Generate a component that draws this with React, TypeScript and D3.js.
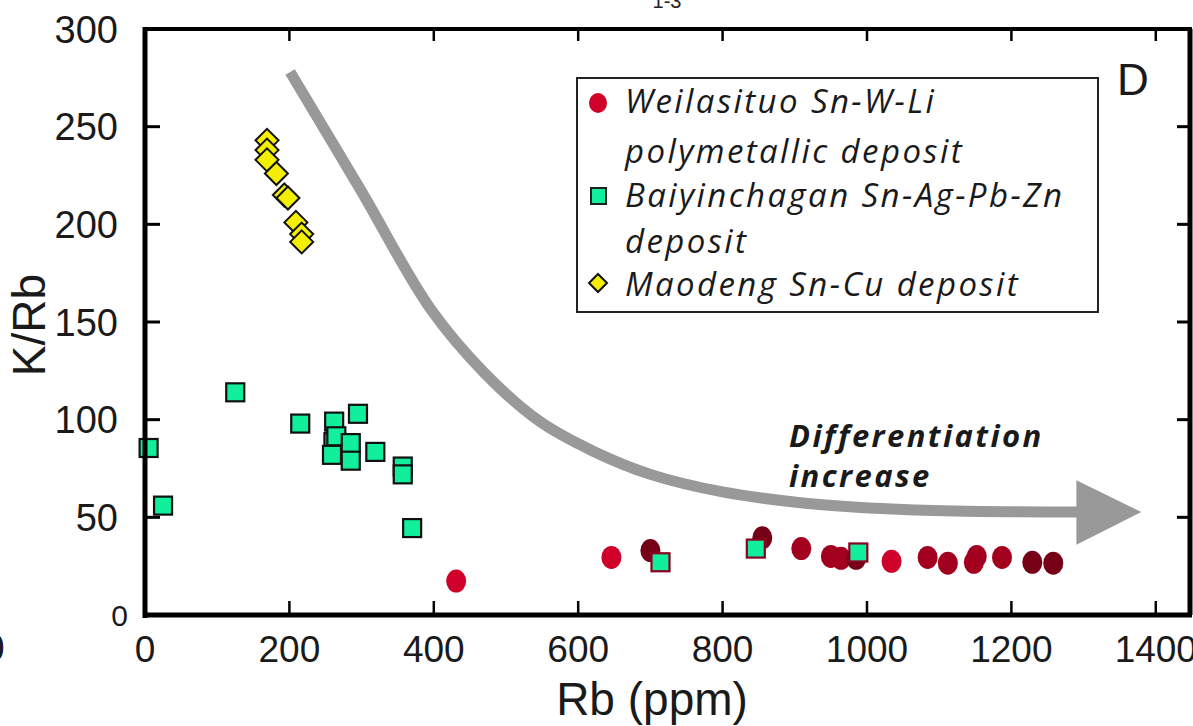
import React from 'react'
import * as d3 from 'd3'

// Weilasituo Sn-W-Li (red circles), split by the shade of red used in the figure
const weilasituoBrightRb = [431, 646, 1034]
const weilasituoBrightKRb = [17.4, 29.5, 27.5]
const weilasituoMidRb = [909, 950, 964, 1084, 1112, 1148, 1152, 1187]
const weilasituoMidKRb = [34, 30, 29, 29.5, 26.5, 27, 30, 29.5]
const weilasituoDarkRb = [700, 855, 985, 1229, 1258]
const weilasituoDarkKRb = [33, 39.5, 29, 27, 26.5]

// Baiyinchagan Sn-Ag-Pb-Zn (green squares)
const baiyinchaganRb = [5, 25, 125, 215, 262, 295, 261, 259, 265, 285, 285, 319, 357, 357, 370]
const baiyinchaganKRb = [85.5, 56, 114, 98, 99, 103, 88.5, 82, 91.5, 88, 79, 83.5, 76, 72, 44.5]
// the three squares that sit among the Weilasituo circles
const baiyinchaganHighRb = [714, 846, 988]
const baiyinchaganHighKRb = [27, 34, 32]

// Maodeng Sn-Cu (yellow diamonds)
const maodengRb = [169, 169, 169, 182, 193, 198, 209, 217, 217]
const maodengKRb = [243, 238, 233, 226, 215, 213.5, 201, 195, 191]

// trend arrow (data coords)
const trendRb = [201, 298, 395, 470, 547, 620, 700, 800, 908, 1020, 1120, 1295]
const trendKRb = [278, 218, 157, 124, 99, 84, 72, 63, 57.5, 54.5, 53.2, 52.7]

const xTicks = [0, 200, 400, 600, 800, 1000, 1200, 1400]
const yTicks = [0, 50, 100, 150, 200, 250, 300]

const legendItems = [
  { shape: 'circle', lines: ['Weilasituo Sn-W-Li', 'polymetallic deposit'] },
  { shape: 'square', lines: ['Baiyinchagan Sn-Ag-Pb-Zn', 'deposit'] },
  { shape: 'diamond', lines: ['Maodeng Sn-Cu deposit'] },
]

const W = 1193
const H = 726
const left = 145
const right = 1189
const top = 29
const bottom = 615

const x = d3.scaleLinear().domain([0, 1446]).range([left, right])
const y = d3.scaleLinear().domain([0, 300]).range([bottom, top])

const GREEN = '#12ef9c'
const YELLOW = '#f4ee00'
const axisFont = '"Liberation Sans", Arial, sans-serif'
const legendFont = '"Open Sans", sans-serif'

const zip = (a: number[], b: number[]) => a.map((v, i) => [v, b[i]] as [number, number])

export default function App() {
  const trend = d3
    .line<[number, number]>()
    .x(d => x(d[0]))
    .y(d => y(d[1]))
    .curve(d3.curveCatmullRom.alpha(0.5))(zip(trendRb, trendKRb)) as string

  const head = [
    [1290, 69],
    [1380, 52.7],
    [1290, 36],
  ]
    .map(d => `${x(d[0])},${y(d[1])}`)
    .join(' ')

  const circles = (rb: number[], krb: number[], fill: string) =>
    zip(rb, krb).map((d, i) => (
      <ellipse key={fill + i} cx={x(d[0])} cy={y(d[1])} rx={10} ry={11.5} fill={fill} />
    ))

  const squares = (rb: number[], krb: number[], stroke: string) =>
    zip(rb, krb).map((d, i) => (
      <rect
        key={stroke + i}
        x={x(d[0]) - 9}
        y={y(d[1]) - 9}
        width={18}
        height={18}
        fill={GREEN}
        stroke={stroke}
        strokeWidth={2.2}
      />
    ))

  const diamond = (cx: number, cy: number, r: number) =>
    `M${cx},${cy - r}L${cx + r},${cy}L${cx},${cy + r}L${cx - r},${cy}Z`

  const legendX = 577
  const legendY = 78

  return (
    <svg
      width={W}
      height={H}
      style={{ position: 'absolute', left: 0, top: 0, display: 'block', background: '#fff' }}
    >
      {/* fragments of the neighbouring panels */}
      <text x={667} y={8} fontSize={20} fontFamily={axisFont} textAnchor="middle" fill="#222">
        1-3
      </text>
      <text x={-6} y={661} fontSize={38} fontFamily={axisFont} textAnchor="middle" fill="#1a1a1a">
        0
      </text>

      {/* trend arrow */}
      <path d={trend} fill="none" stroke="#999" strokeWidth={11} />
      <polygon points={head} fill="#999" />

      <text fontFamily={legendFont} fontStyle="italic" fontWeight={700} fontSize={31} fill="#1a1a1a" letterSpacing={2.4}>
        <tspan x={789} y={447}>Differentiation</tspan>
        <tspan x={789} y={487}>increase</tspan>
      </text>

      {/* points */}
      {zip(maodengRb, maodengKRb).map((d, i) => (
        <path key={'m' + i} d={diamond(x(d[0]), y(d[1]), 11.5)} fill={YELLOW} stroke="#111" strokeWidth={2} />
      ))}
      {squares(baiyinchaganRb, baiyinchaganKRb, '#111')}
      {circles(weilasituoBrightRb, weilasituoBrightKRb, '#cf0029')}
      {circles(weilasituoMidRb, weilasituoMidKRb, '#a3001f')}
      {circles(weilasituoDarkRb, weilasituoDarkKRb, '#760016')}
      {squares(baiyinchaganHighRb, baiyinchaganHighKRb, '#8a0020')}

      {/* frame */}
      <line x1={left} x2={left} y1={top - 2} y2={bottom + 3} stroke="#000" strokeWidth={5} />
      <line x1={left - 2} x2={right + 3} y1={bottom} y2={bottom} stroke="#000" strokeWidth={5} />
      <line x1={left - 2} x2={right + 3} y1={top} y2={top} stroke="#000" strokeWidth={4} />
      <line x1={right + 1} x2={right + 1} y1={top} y2={bottom} stroke="#000" strokeWidth={5} />

      {/* ticks */}
      {xTicks.map(t => (
        <g key={'x' + t}>
          {t > 0 && <line x1={x(t)} x2={x(t)} y1={bottom} y2={bottom - 14} stroke="#000" strokeWidth={2.5} />}
          {t > 0 && <line x1={x(t)} x2={x(t)} y1={top} y2={top + 12} stroke="#000" strokeWidth={2.5} />}
          <text x={x(t)} y={662} fontSize={37} fontFamily={axisFont} textAnchor="middle" fill="#1a1a1a">
            {t}
          </text>
        </g>
      ))}
      {yTicks.map(t => (
        <g key={'y' + t}>
          {t > 0 && t < 300 && (
            <line x1={left} x2={left + 15} y1={y(t)} y2={y(t)} stroke="#000" strokeWidth={3} />
          )}
          {t > 0 && t < 300 && (
            <line x1={right} x2={right - 12} y1={y(t)} y2={y(t)} stroke="#000" strokeWidth={3} />
          )}
          <text
            x={t === 0 ? 128 : 118}
            y={y(t)}
            dy="0.36em"
            fontSize={t === 0 ? 30 : 38}
            fontFamily={axisFont}
            textAnchor="end"
            fill="#1a1a1a"
          >
            {t}
          </text>
        </g>
      ))}

      {/* axis titles */}
      <text x={652} y={715} fontSize={46} fontFamily={axisFont} textAnchor="middle" fill="#1a1a1a">
        Rb (ppm)
      </text>
      <text
        transform="translate(45,325) rotate(-90)"
        fontSize={46}
        fontFamily={axisFont}
        textAnchor="middle"
        fill="#1a1a1a"
      >
        K/Rb
      </text>

      {/* panel letter */}
      <text x={1117} y={95} fontSize={44} fontFamily={axisFont} fill="#1a1a1a">
        D
      </text>

      {/* legend */}
      <rect x={legendX} y={legendY} width={521} height={234} fill="#fff" stroke="#222" strokeWidth={2} />
      {legendItems.map((item, i) => {
        const rowY = [103, 196, 283][i]
        const textY = [113, 163, 207, 253, 296]
        const lineStart = [0, 2, 4][i]
        return (
          <g key={'l' + i}>
            {item.shape === 'circle' && <ellipse cx={598} cy={rowY} rx={9} ry={10} fill="#cf0029" />}
            {item.shape === 'square' && (
              <rect x={591} y={rowY - 8} width={15} height={16} fill={GREEN} stroke="#222" strokeWidth={2} />
            )}
            {item.shape === 'diamond' && (
              <path d={diamond(598, rowY, 9)} fill={YELLOW} stroke="#111" strokeWidth={2} />
            )}
            {item.lines.map((ln, j) => (
              <text
                key={j}
                x={625}
                y={textY[lineStart + j]}
                fontSize={33}
                fontStyle="italic"
                fontFamily={legendFont}
                letterSpacing={2.4}
                fill="#1a1a1a"
              >
                {ln}
              </text>
            ))}
          </g>
        )
      })}
    </svg>
  )
}
